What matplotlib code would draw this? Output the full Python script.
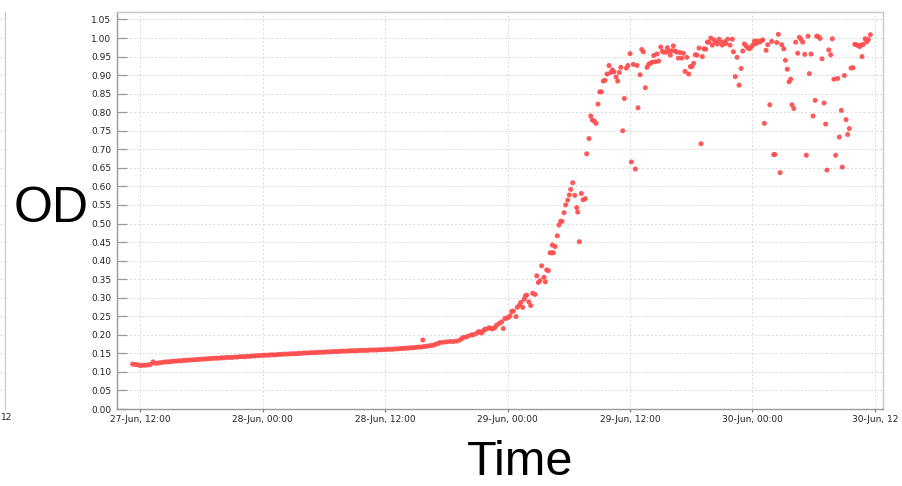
import matplotlib
matplotlib.use("Agg")
import matplotlib.pyplot as plt

# ---------------- data (hours after 27-Jun 12:00, OD) ----------------
early_hours = [
    -0.75, -0.5, -0.25, 0.0, 0.25, 0.5, 0.75, 1.0, 1.25, 1.5, 1.75, 2.0,
    2.25, 2.5, 2.75, 3.0, 3.25, 3.5, 3.75, 4.0, 4.25, 4.5, 4.75, 5.0,
    5.25, 5.5, 5.75, 6.0, 6.25, 6.5, 6.75, 7.0, 7.25, 7.5, 7.75, 8.0,
    8.25, 8.5, 8.75, 9.0, 9.25, 9.5, 9.75, 10.0, 10.25, 10.5, 10.75, 11.0,
    11.25, 11.5, 11.75, 12.0, 12.25, 12.5, 12.75, 13.0, 13.25, 13.5, 13.75, 14.0,
    14.25, 14.5, 14.75, 15.0, 15.25, 15.5, 15.75, 16.0, 16.25, 16.5, 16.75, 17.0,
    17.25, 17.5, 17.75, 18.0, 18.25, 18.5, 18.75, 19.0, 19.25, 19.5, 19.75, 20.0,
    20.25, 20.5, 20.75, 21.0, 21.25, 21.5, 21.75, 22.0, 22.25, 22.5, 22.75, 23.0,
    23.25, 23.5, 23.75, 24.0, 24.25, 24.5, 24.75, 25.0, 25.25, 25.5, 25.75, 26.0,
    26.25, 26.5, 26.75, 27.0, 27.25, 27.5, 27.75, 28.0, 28.25, 28.5, 28.75, 29.0,
    29.25,
]
early_od = [
    0.121, 0.120, 0.119, 0.117, 0.118, 0.118, 0.119, 0.120, 0.127, 0.123, 0.124, 0.125,
    0.126, 0.127, 0.127, 0.128, 0.129, 0.129, 0.130, 0.130, 0.131, 0.131, 0.132, 0.132,
    0.133, 0.133, 0.134, 0.134, 0.135, 0.135, 0.136, 0.136, 0.137, 0.137, 0.137, 0.138,
    0.138, 0.139, 0.139, 0.139, 0.140, 0.140, 0.141, 0.141, 0.141, 0.142, 0.142, 0.143,
    0.143, 0.144, 0.144, 0.145, 0.145, 0.145, 0.146, 0.146, 0.146, 0.147, 0.147, 0.148,
    0.148, 0.148, 0.149, 0.149, 0.149, 0.150, 0.150, 0.151, 0.151, 0.151, 0.152, 0.152,
    0.152, 0.153, 0.153, 0.153, 0.154, 0.154, 0.154, 0.155, 0.155, 0.155, 0.156, 0.156,
    0.156, 0.157, 0.157, 0.157, 0.157, 0.158, 0.158, 0.158, 0.158, 0.159, 0.159, 0.159,
    0.159, 0.160, 0.160, 0.160, 0.161, 0.161, 0.161, 0.162, 0.162, 0.163, 0.163, 0.164,
    0.164, 0.165, 0.165, 0.166, 0.167, 0.167, 0.168, 0.169, 0.170, 0.171, 0.172, 0.175,
    0.177,
]
outlier_hours = [27.7]
outlier_od = [0.186]

late_hours = [
    29.38, 29.71, 30.04, 30.36, 30.69, 31.02, 31.34, 31.51, 31.67, 31.93,
    32.16, 32.49, 32.65, 32.98, 33.14, 33.30, 33.47, 33.63, 33.79, 33.96,
    34.22, 34.45, 34.61, 34.77, 34.94, 35.20, 35.43, 35.59, 35.75, 35.92,
    36.08, 36.25, 36.41, 36.57, 36.83, 36.96, 37.16, 37.29, 37.49, 37.62,
    37.75, 37.88, 38.08, 38.27, 38.47, 38.70, 38.86, 39.02, 39.19, 39.35,
    39.58, 39.71, 39.84, 40.00, 40.17, 40.33, 40.40, 40.49, 40.66, 40.88,
    41.05, 41.21, 41.34, 41.54, 41.70, 41.90, 42.06, 42.19, 42.39, 42.59,
    42.78, 42.88, 43.04, 43.24, 43.40, 43.63, 43.76, 43.99, 44.16, 44.31,
    44.51, 44.68, 44.87, 45.04, 45.20, 45.39, 45.56, 45.75, 45.95, 46.12,
    46.27, 46.44, 46.64, 46.80, 46.96, 47.10, 47.29, 47.45, 47.65, 47.81,
    48.01, 48.14, 48.33, 48.53, 48.70, 48.79, 48.99, 49.16, 49.31, 49.51,
    49.68, 49.84, 50.00, 50.17, 50.33, 50.49, 50.66, 50.82, 51.02, 51.18,
    51.34, 51.54, 51.67, 51.83, 51.96, 52.13, 52.26, 52.42, 52.59, 52.75,
    52.91, 53.08, 53.24, 53.40, 53.57, 53.76, 53.92, 54.09, 54.25, 54.41,
    54.58, 54.77, 54.97, 55.10, 55.26, 55.43, 55.59, 55.75, 55.92, 56.08,
    56.25, 56.41, 56.57, 56.74, 56.90, 57.06, 57.23, 57.39, 57.58, 57.81,
    58.04, 58.14, 58.33, 58.50, 58.70, 58.90, 59.06, 59.22, 59.38, 59.55,
    59.71, 59.87, 60.04, 60.20, 60.36, 60.53, 60.69, 60.85, 61.02, 61.18,
    61.35, 61.51, 61.71, 61.90, 62.10, 62.20, 62.39, 62.55, 62.72, 62.88,
    63.08, 63.24, 63.43, 63.60, 63.76, 63.89, 64.06, 64.25, 64.45, 64.61,
    64.77, 64.94, 65.14, 65.29, 65.46, 65.59, 65.75, 65.95, 66.15, 66.31,
    66.47, 66.64, 66.83, 67.03, 67.19, 67.32, 67.49, 67.68, 67.84, 68.00,
    68.17, 68.37, 68.53, 68.73, 68.82, 69.02, 69.19, 69.35, 69.51, 69.68,
    69.87, 70.04, 70.20, 70.36, 70.53, 70.69, 70.75, 70.88, 71.05, 71.22,
    71.37, 71.57,
]
late_od = [
    0.179, 0.180, 0.181, 0.182, 0.182, 0.183, 0.186, 0.190, 0.193, 0.194,
    0.197, 0.200, 0.200, 0.204, 0.208, 0.208, 0.205, 0.211, 0.215, 0.216,
    0.219, 0.216, 0.217, 0.220, 0.226, 0.231, 0.235, 0.217, 0.244, 0.245,
    0.247, 0.251, 0.263, 0.264, 0.249, 0.274, 0.280, 0.287, 0.274, 0.296,
    0.305, 0.307, 0.289, 0.279, 0.312, 0.309, 0.359, 0.341, 0.346, 0.386,
    0.355, 0.343, 0.375, 0.373, 0.421, 0.421, 0.442, 0.421, 0.438, 0.467,
    0.496, 0.506, 0.506, 0.529, 0.550, 0.563, 0.577, 0.592, 0.610, 0.576,
    0.543, 0.531, 0.451, 0.581, 0.564, 0.567, 0.688, 0.729, 0.790, 0.779,
    0.776, 0.770, 0.822, 0.855, 0.855, 0.884, 0.886, 0.903, 0.926, 0.907,
    0.914, 0.909, 0.895, 0.884, 0.907, 0.921, 0.750, 0.837, 0.919, 0.926,
    0.958, 0.666, 0.929, 0.647, 0.926, 0.812, 0.901, 0.969, 0.963, 0.866,
    0.921, 0.929, 0.932, 0.935, 0.953, 0.936, 0.957, 0.938, 0.976, 0.964,
    0.962, 0.962, 0.974, 0.965, 0.954, 0.966, 0.979, 0.965, 0.962, 0.946,
    0.961, 0.946, 0.959, 0.910, 0.948, 0.903, 0.923, 0.923, 0.932, 0.955,
    0.954, 0.973, 0.715, 0.950, 0.971, 0.970, 0.989, 0.989, 1.000, 0.981,
    0.995, 0.988, 0.984, 0.997, 0.989, 0.981, 0.990, 0.985, 0.997, 0.981,
    0.997, 0.963, 0.896, 0.948, 0.873, 0.918, 0.965, 0.984, 0.979, 0.974,
    0.971, 0.975, 0.981, 0.992, 0.985, 0.992, 0.989, 0.992, 0.995, 0.770,
    0.967, 0.982, 0.820, 0.991, 0.686, 0.686, 0.988, 1.010, 0.637, 0.982,
    0.971, 0.940, 0.916, 0.882, 0.889, 0.820, 0.810, 0.989, 0.959, 1.002,
    0.997, 0.989, 0.956, 0.684, 1.005, 0.904, 0.957, 0.790, 0.832, 1.005,
    1.004, 0.999, 0.944, 0.825, 0.768, 0.644, 0.968, 0.955, 0.998, 0.889,
    0.684, 0.891, 0.733, 0.805, 0.652, 0.899, 0.780, 0.740, 0.756, 0.919,
    0.920, 0.983, 0.982, 0.980, 0.977, 0.981, 0.950, 0.983, 0.998, 0.990,
    0.996, 1.009,
]

tick_hours = [0, 12, 24, 36, 48, 60, 72]
tick_labels = ["27-Jun, 12:00", "28-Jun, 00:00", "28-Jun, 12:00", "29-Jun, 00:00",
               "29-Jun, 12:00", "30-Jun, 00:00", "30-Jun, 12"]
y_ticks = [round(0.05 * i, 2) for i in range(22)]

# ---------------- figure ----------------
W, H = 903, 486
fig = plt.figure(figsize=(W / 100, H / 100), dpi=100)
fig.patch.set_facecolor("white")

ax_left_px, ax_right_px = 117, 883
ax_top_px, ax_bot_px = 12.3, 409
pos = [ax_left_px / W, (H - ax_bot_px) / H,
       (ax_right_px - ax_left_px) / W, (ax_bot_px - ax_top_px) / H]
ax = fig.add_axes(pos)

color = "#ff5050"
all_h = early_hours + outlier_hours + late_hours
all_od = early_od + outlier_od + late_od
ax.scatter(all_h, all_od, s=13, color=color, edgecolors="none", alpha=0.95, zorder=3)

ax.set_xlim(-2.284, 72.81)
ax.set_ylim(0, 1.0694)
ax.set_xticks(tick_hours)
ax.set_xticklabels(tick_labels)
ax.set_yticks(y_ticks)
ax.set_yticklabels([f"{v:.2f}" for v in y_ticks])

grid_kw = dict(color="#d6d6d6", linewidth=0.6, linestyle=(0, (2.5, 2.5)))
ax.grid(True, **grid_kw)
ax.set_axisbelow(True)

for side in ["top", "right"]:
    ax.spines[side].set_color("#c8c8c8")
    ax.spines[side].set_linewidth(1.0)
for side in ["left", "bottom"]:
    ax.spines[side].set_color("#999999")
    ax.spines[side].set_linewidth(1.0)

ax.tick_params(axis="y", direction="in", length=7, width=0.9, color="#9a9a9a",
               labelsize=6.5, labelcolor="#222222", pad=4)
ax.tick_params(axis="x", direction="out", length=2.5, width=0.9, color="#777777",
               labelsize=6.5, labelcolor="#222222", pad=1.5)
for lab in ax.get_xticklabels() + ax.get_yticklabels():
    lab.set_family("DejaVu Sans")

# cut-off neighbouring chart on the far left
ax0 = fig.add_axes([-100 / W, pos[1], 104.5 / W, pos[3]])
ax0.set_ylim(0, 1.0694)
ax0.set_xlim(0, 1)
ax0.set_yticks(y_ticks)
ax0.set_xticks([])
ax0.tick_params(axis="y", length=0, labelleft=False)
ax0.grid(True, axis="y", **grid_kw)
for side in ["top", "left", "bottom"]:
    ax0.spines[side].set_visible(False)
ax0.spines["right"].set_color("#c8c8c8")
fig.text(0.5 / W, (H - 413) / H, "12", fontsize=6.5, color="#222222",
         ha="left", va="top", family="DejaVu Sans")

# big axis labels
fig.text(51 / W, (H - 222) / H, "OD", fontsize=36, ha="center", va="baseline",
         family="Liberation Sans", color="black")
fig.text(520 / W, (H - 475) / H, "Time", fontsize=35, ha="center", va="baseline",
         family="Liberation Sans", color="black")

fig.savefig("out.png", dpi=100, facecolor="white")
